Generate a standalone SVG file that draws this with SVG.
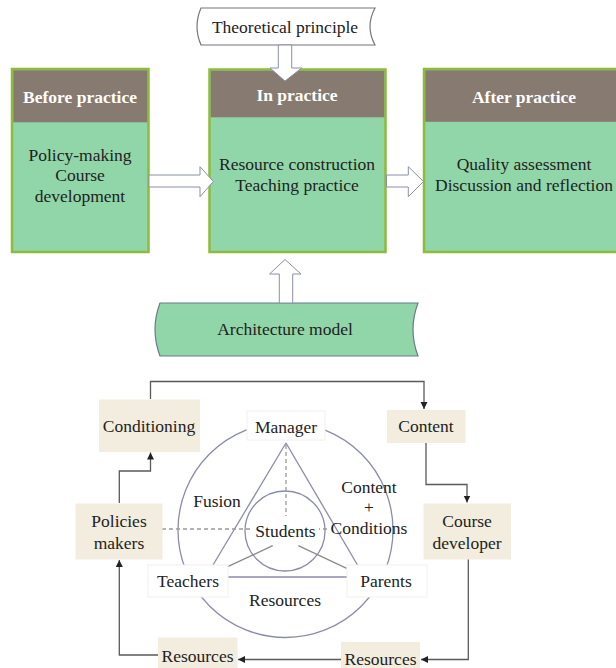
<svg xmlns="http://www.w3.org/2000/svg" width="616" height="668" viewBox="0 0 616 668">
<defs>
<style>
text{font-family:"Liberation Serif","Times New Roman",serif;font-size:17.5px;fill:#222;text-anchor:middle}
.hd{font-weight:bold;fill:#fff}
.stage{fill:#91D6A8;stroke:#8DBB3D;stroke-width:2.5}
.head{fill:#877A70}
.blk{fill:#fff;stroke:#8A90A8;stroke-width:1}
.beige{fill:#F2EDDE}
.lbl{fill:#fff;stroke:#f0f0f0;stroke-width:1}
.ring{fill:none;stroke:#8A8CAB;stroke-width:1.3}
.tri{fill:none;stroke:#8A8CAB;stroke-width:1.3}
.spoke{fill:none;stroke:#8c8c8c;stroke-width:1.3}
.dash{fill:none;stroke:#999;stroke-width:1.3;stroke-dasharray:4 3}
.con{fill:none;stroke:#5a5a5a;stroke-width:1.3}
</style>
<marker id="ah" markerUnits="userSpaceOnUse" markerWidth="8" markerHeight="8" refX="7" refY="3.5" orient="auto">
<path d="M0,0 L7,3.5 L0,7 z" fill="#222"/>
</marker>
</defs>
<rect width="616" height="668" fill="#fff"/>

<g id="before">
<rect class="stage" x="12" y="69" width="136.5" height="183"/>
<rect class="head" x="13.3" y="70.3" width="134" height="52"/>
<text class="hd" x="80" y="103">Before practice</text>
<text x="80" y="161">Policy-making</text>
<text x="80" y="181">Course</text>
<text x="80" y="202">development</text>
</g>

<g id="in">
<rect class="stage" x="209.5" y="69.5" width="176" height="182.5"/>
<rect class="head" x="210.8" y="70.8" width="173.4" height="46.5"/>
<text class="hd" x="297" y="101">In practice</text>
<text x="297" y="170">Resource construction</text>
<text x="297" y="191">Teaching practice</text>
</g>

<g id="after">
<rect class="stage" x="424" y="69" width="196" height="183"/>
<rect class="head" x="425.3" y="70.3" width="193" height="51.5"/>
<text class="hd" x="524" y="103">After practice</text>
<text x="524" y="170">Quality assessment</text>
<text x="524" y="191">Discussion and reflection</text>
</g>

<g id="theory">
<path d="M201,8 L375,8 Q365,26.5 375,45 L201,45 Q193,26.5 201,8 Z" fill="#fff" stroke="#777" stroke-width="1.2"/>
<text x="285" y="33">Theoretical principle</text>
</g>

<g id="arch">
<path d="M160,303 L418,303 Q408,329.5 418,356 L160,356 Q150,329.5 160,303 Z" fill="#91D6A8" stroke="#6B7A8A" stroke-width="1.2"/>
<text x="285" y="335">Architecture model</text>
</g>

<g id="block-arrows">
<polygon class="blk" points="278.3,45 291.7,45 291.7,68 301.7,68 285,81 270,68 278.3,68"/>
<polygon class="blk" points="279.3,303 292.7,303 292.7,274 301,274 285,259.5 269.5,274 279.3,274"/>
<polygon class="blk" points="149,175 200,175 200,166.7 213.3,181.5 200,196.7 200,187 149,187"/>
<polygon class="blk" points="386.5,175 408.3,175 408.3,166.7 423.5,181.5 408.3,196.7 408.3,187 386.5,187"/>
</g>

<g id="cycle-shapes">
<circle class="ring" cx="285.5" cy="530" r="107.5"/>
<circle class="ring" cx="285" cy="531" r="40"/>
<line class="tri" x1="286" y1="443" x2="213" y2="565"/>
<line class="tri" x1="286" y1="443" x2="357.5" y2="565"/>
<line class="tri" x1="228" y1="577" x2="347" y2="577"/>
<line class="spoke" x1="272.7" y1="545.7" x2="227.7" y2="566.7"/>
<line class="spoke" x1="298.3" y1="545.7" x2="346.7" y2="568.3"/>
<line class="dash" x1="286" y1="445" x2="286" y2="516"/>
<line class="dash" x1="162" y1="529" x2="330" y2="529"/>
</g>

<g id="manager">
<rect class="lbl" x="247" y="411" width="78" height="29"/>
<text x="286" y="433">Manager</text>
</g>
<g id="teachers">
<rect class="lbl" x="148" y="565" width="80" height="32"/>
<text x="188" y="587">Teachers</text>
</g>
<g id="parents">
<rect class="lbl" x="347" y="565" width="80" height="32"/>
<text x="386" y="587">Parents</text>
</g>
<g id="students">
<rect x="253" y="519" width="66" height="21" fill="#fff"/>
<text x="285.5" y="537">Students</text>
</g>
<g id="fusion"><text x="217" y="507">Fusion</text></g>
<g id="content-conditions">
<text x="369" y="493">Content</text>
<text x="369" y="513">+</text>
<text x="369" y="534">Conditions</text>
</g>
<g id="resources-inner"><text x="285" y="606">Resources</text></g>

<g id="conditioning">
<rect class="beige" x="99" y="399.5" width="101" height="52.5"/>
<text x="149" y="432">Conditioning</text>
</g>
<g id="content">
<rect class="beige" x="387" y="410" width="78.5" height="33"/>
<text x="426" y="432">Content</text>
</g>
<g id="course-developer">
<rect class="beige" x="423.5" y="503.5" width="87.5" height="56"/>
<text x="467" y="527">Course</text>
<text x="467" y="549">developer</text>
</g>
<g id="policies-makers">
<rect class="beige" x="75.5" y="503.5" width="87" height="56"/>
<text x="119" y="527">Policies</text>
<text x="119" y="549">makers</text>
</g>
<g id="resources-left">
<rect class="beige" x="158" y="637.5" width="79.5" height="30.5"/>
<text x="197.5" y="661.5">Resources</text>
</g>
<g id="resources-right">
<rect class="beige" x="341" y="642" width="79" height="26"/>
<text x="380.5" y="664.5">Resources</text>
</g>

<g id="connectors">
<path class="con" d="M150.5,399 V381.5 H424 V409" marker-end="url(#ah)"/>
<path class="con" d="M426,443 V484.5 H467 V502.5" marker-end="url(#ah)"/>
<path class="con" d="M468.3,559.5 V659.5 H421" marker-end="url(#ah)"/>
<path class="con" d="M341,659.5 H238" marker-end="url(#ah)"/>
<path class="con" d="M158,655 H119.3 V560" marker-end="url(#ah)"/>
<path class="con" d="M119.3,503 V471 H150.5 V452.5" marker-end="url(#ah)"/>
</g>
</svg>
